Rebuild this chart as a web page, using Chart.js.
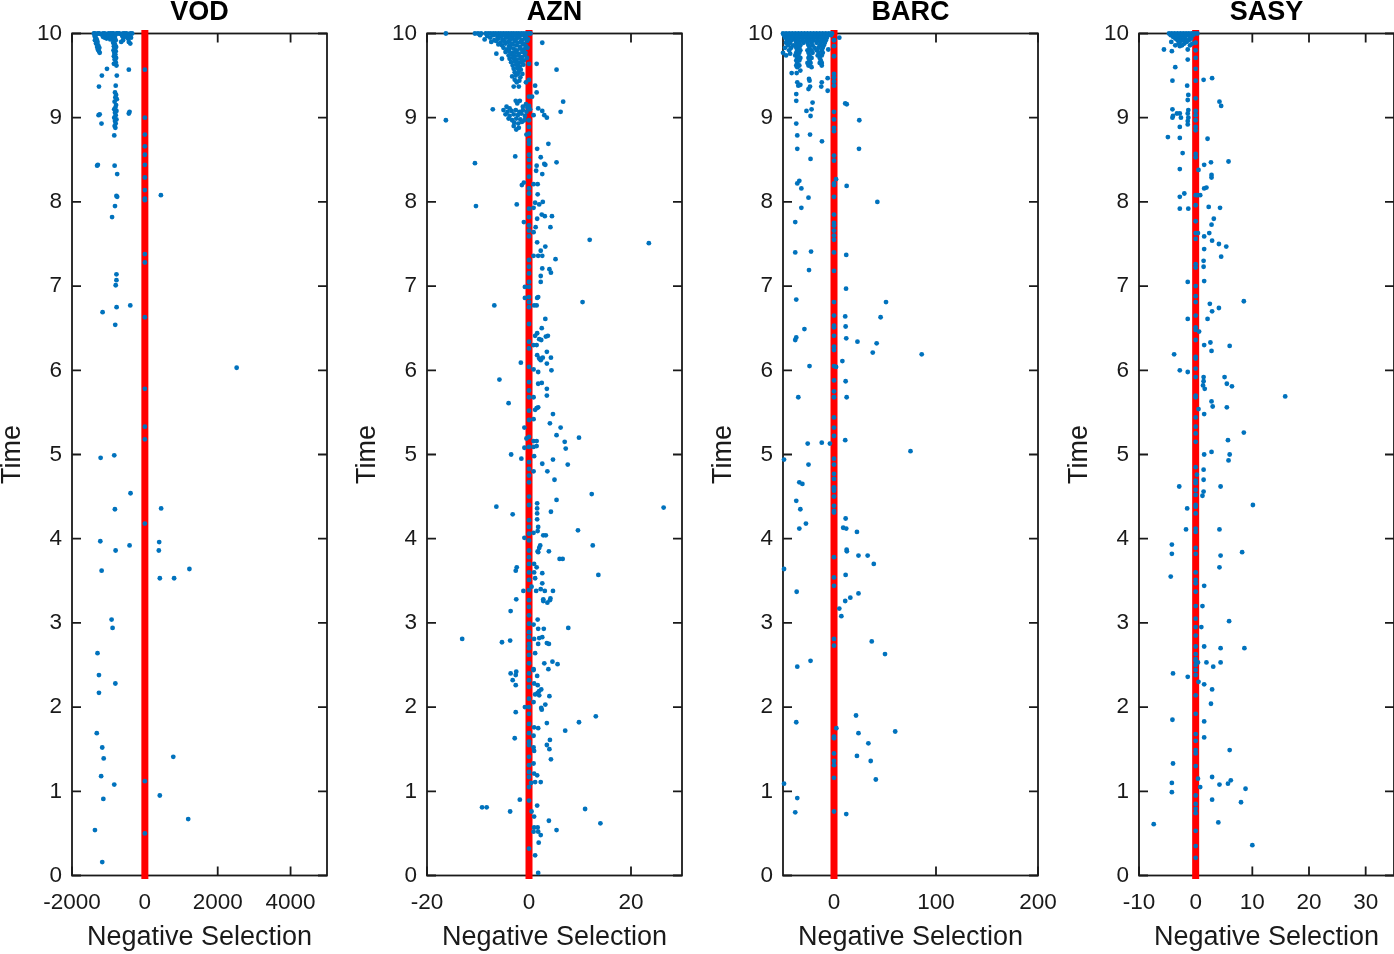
<!DOCTYPE html>
<html>
<head>
<meta charset="utf-8">
<script src="https://cdn.jsdelivr.net/npm/chart.js@4.4.0/dist/chart.umd.min.js"></script>
<style>
html, body { margin: 0; padding: 0; background: #fff; overflow: hidden; width: 1394px; height: 954px; }
.panel { position: absolute; top: 0; }
</style>
</head>
<body>
<div class="panel" style="left:0px"><canvas id="c0" width="360" height="954"></canvas></div>
<div class="panel" style="left:355px"><canvas id="c1" width="360" height="954"></canvas></div>
<div class="panel" style="left:711px"><canvas id="c2" width="360" height="954"></canvas></div>
<div class="panel" style="left:1067px"><canvas id="c3" width="360" height="954"></canvas></div>
<script>
// ---------- DATA ----------
const stocks = ['VOD', 'AZN', 'BARC', 'SASY'];
const timeTicks = [0, 1, 2, 3, 4, 5, 6, 7, 8, 9, 10];
const zeroLine = [0, 10];

const vodTicks = [-2000, 0, 2000, 4000];
const aznTicks = [-20, 0, 20];
const barcTicks = [0, 100, 200];
const sasyTicks = [-10, 0, 10, 20, 30];

// [negative selection, time]
const vodPoints = [
    [-1400,10],[-1370,10],[-1330,9.99],[-1290,10],[-1250,10],[-1200,9.99],[-1150,10],[-1100,10],[-1050,9.99],[-1000,10],[-950,10],[-900,10],
    [-860,10],[-820,9.99],[-780,10],[-740,10],[-700,10],[-650,9.99],[-600,10],[-550,10],[-500,10],[-450,9.99],[-400,10],[-350,10],
    [-1380,9.97],[-1350,9.95],[-1320,9.93],[-1370,9.92],[-1300,9.9],[-1340,9.88],[-1280,9.86],[-1310,9.84],[-1250,9.83],[-1290,9.81],[-1260,9.79],[-1240,9.77],
    [-900,9.97],[-860,9.95],[-820,9.96],[-880,9.93],[-840,9.91],[-800,9.92],[-870,9.89],[-820,9.87],[-850,9.85],[-790,9.84],[-830,9.82],[-860,9.8],
    [-800,9.79],[-840,9.77],[-810,9.75],[-850,9.73],[-790,9.71],[-830,9.69],[-800,9.66],[-850,9.64],[-780,9.62],
    [-620,9.97],[-580,9.95],[-540,9.98],[-500,9.96],[-460,9.94],[-420,9.97],[-380,9.95],[-600,9.92],[-440,9.9],[-650,9.9],[-400,9.88],
    [-1000,9.96],[-1050,9.94],[-1100,9.95],[-1150,9.96],[-950,9.93],
    [-1040,9.58],[-440,9.57],[-1180,9.50],[-770,9.50],[-1260,9.37],[-800,9.38],
    [-820,9.3],[-790,9.27],[-810,9.24],[-770,9.22],[-830,9.19],[-790,9.15],[-810,9.12],[-840,9.1],[-780,9.08],[-820,9.06],[-800,9.03],
    [-840,9.0],[-780,8.98],[-820,8.96],[-800,8.93],[-830,8.9],[-810,8.88],
    [-1270,9.03],[-1240,9.04],[-440,9.05],[-420,9.07],[-1190,8.93],[-840,8.79],[-1310,8.43],[-1290,8.44],[-830,8.43],[-760,8.33],
    [-780,8.07],[-760,8.06],[-820,7.95],[-900,7.82],[-780,7.14],[-780,7.07],[-800,7.01],[-1160,6.69],[-776,6.75],[-400,6.77],[-813,6.54],
    [440,8.08],[2520,6.03],[-1214,4.96],[-840,4.99],[-393,4.54],[-822,4.35],[447,4.36],[-1223,3.97],[-420,3.92],[-803,3.86],[393,3.96],
    [383,3.86],[-1187,3.62],[411,3.53],[803,3.53],[1223,3.64],[-913,3.04],[-886,2.94],[-1300,2.64],[-1260,2.38],[-810,2.28],[-1260,2.17],
    [-1320,1.69],[-1170,1.52],[-1130,1.39],[-1200,1.18],[-840,1.08],[-1140,0.91],[-1370,0.54],[-1170,0.16],[780,1.41],[410,0.95],[1190,0.67]
];
const vodZero = [9.57, 9.00, 8.80, 8.66, 8.56, 8.44, 8.29, 8.14, 8.04, 8.02, 7.38, 7.28, 6.63, 5.78, 5.33, 5.18, 4.18, 1.12, 0.50];

const aznPoints = [
    [-16.3,10],[-10.6,10],[-10.0,10],[-9.4,10],[-8.5,10],[-8.0,10],[-7.5,10],[-7.0,10],[-6.5,10],[-6.0,10],[-5.5,10],[-5.0,10],
    [-4.5,10],[-4.0,10],[-3.5,10],[-3.0,10],[-2.5,10],[-2.0,10],[-1.5,10],[-1.0,10],[-0.5,10],[0,10],[0.3,10],
    [-9.6,9.98],[-8.2,9.97],[-7.0,9.98],[-6.2,9.96],[-5.5,9.97],[-4.8,9.98],[-4.2,9.96],[-3.6,9.97],[-3.0,9.98],[-2.4,9.96],[-1.8,9.97],[-1.2,9.98],[-0.6,9.96],
    [-8.7,9.93],[-7.6,9.95],[-6.8,9.92],[-6.0,9.94],[-5.2,9.93],[-4.5,9.95],[-3.8,9.92],[-3.2,9.94],[-2.6,9.93],[-2.0,9.95],[-1.4,9.92],[-0.8,9.94],[-0.2,9.93],
    [-7.4,9.90],[-6.4,9.91],[-5.6,9.89],[-4.9,9.91],[-4.1,9.90],[-3.4,9.88],[-2.8,9.91],[-2.2,9.89],[-1.6,9.90],[-1.0,9.88],[-0.4,9.91],
    [-6.0,9.87],[-5.3,9.86],[-4.6,9.88],[-3.9,9.85],[-3.2,9.87],[-2.5,9.86],[-1.8,9.84],[-1.2,9.87],[-0.6,9.85],
    [-5.0,9.83],[-4.3,9.81],[-3.7,9.83],[-3.0,9.82],[-2.4,9.80],[-1.7,9.82],[-1.0,9.81],[-0.3,9.83],
    [-4.6,9.78],[-3.9,9.79],[-3.2,9.77],[-2.6,9.78],[-2.0,9.76],[-1.3,9.78],[-0.7,9.77],
    [-4.0,9.74],[-3.5,9.75],[-2.8,9.73],[-2.1,9.74],[-1.4,9.72],[-0.8,9.74],
    [-6.4,9.76],[-3.8,9.70],[-3.1,9.71],[-2.4,9.69],[-1.7,9.70],[-1.0,9.68],[-0.4,9.71],
    [-3.5,9.66],[-2.8,9.67],[-2.1,9.65],[-1.4,9.66],[-5.3,9.70],[-3.2,9.62],[-2.5,9.63],[-1.8,9.61],[-1.1,9.63],
    [-3.0,9.58],[-2.3,9.59],[-1.6,9.57],[-2.8,9.54],[-2.0,9.55],[-1.3,9.52],[-2.6,9.50],[-1.7,9.48],[-2.8,9.45],[-1.9,9.44],
    [-2.2,9.52],[-3.3,9.49],[-2.4,9.42],[-0.6,9.42],[-3.0,9.37],[-2.0,9.37],
    [-2.6,9.2],[-2.3,9.17],[-1.8,9.2],[-0.6,9.16],[-4.4,9.13],[-3.8,9.11],[-1.2,9.13],[-0.3,9.12],[-5.0,9.09],[-4.2,9.07],[-3.4,9.08],
    [-2.6,9.09],[-1.9,9.07],[-1.2,9.09],[-0.5,9.07],[0.2,9.1],[-4.6,9.04],[-3.8,9.02],[-3.0,9.04],[-2.2,9.03],[-1.5,9.05],[-0.8,9.02],
    [-4.0,8.99],[-3.3,8.97],[-2.5,8.99],[-1.7,8.98],[-0.9,8.97],[-2.9,8.94],[-2.1,8.93],[-1.4,8.95],[-3.0,8.9],[-2.0,8.88],[-2.5,8.86],[-0.5,8.8],
    [2.6,9.89],[5.4,9.57],[1.5,9.64],[6.7,9.19],[6.2,9.07],[2.6,9.08],[3.0,9.03],[3.5,9.0],[1.8,9.11],[0.9,9.03],[1.2,9.38],[1.5,9.30],[0.6,9.25],
    [-7.1,9.1],[-16.3,8.97],[-10.6,8.46],[-10.4,7.95],[-6.8,6.77],[10.5,6.81],[11.9,7.55],[23.5,7.51],
    [-2.7,8.54],[3.8,8.69],[1.6,8.63],[2.3,8.53],[3.0,8.45],[3.2,8.44],[5.4,8.47],[1.5,8.43],[1.4,8.37],[2.6,8.33],[-1.4,8.2],[-1.0,8.23],
    [0.9,8.21],[1.7,8.21],[1.7,8.09],[2.7,8.0],[2.0,7.97],[1.2,7.99],[-2.4,7.97],[0.9,7.93],[2.5,7.85],[3.1,7.83],[4.5,7.83],[1.6,7.8],
    [-1.0,7.76],[4.2,7.7],[1.3,7.7],[0.9,7.64],[1.6,7.52],[3.2,7.47],[2.3,7.42],[1.8,7.36],[2.6,7.36],[0.9,7.36],[5.2,7.32],[2.6,7.21],
    [4.0,7.2],[4.3,7.16],[2.3,7.12],[2.3,7.05],[-0.8,6.99],[1.8,6.87],[1.6,6.86],[-0.8,6.86],[1.0,6.77],[1.5,6.77],
    [3.2,6.61],[2.5,6.50],[1.6,6.44],[1.2,6.41],[3.7,6.41],[3.3,6.40],[2.0,6.37],[2.4,6.36],[0.9,6.30],[1.5,6.30],[3.5,6.22],[1.6,6.18],
    [2.0,6.14],[2.7,6.15],[2.3,6.12],[4.3,6.15],[-1.6,6.09],[3.5,6.08],[4.4,6.0],[0.9,6.01],[1.8,5.98],[-5.8,5.89],[1.8,5.84],[2.5,5.85],
    [3.5,5.78],[3.5,5.7],[0.9,5.68],[-4.0,5.61],[1.5,5.55],[1.8,5.56],[1.2,5.53],[0.9,5.42],[4.7,5.48],[4.1,5.37],[6.2,5.32],[5.4,5.23],
    [9.8,5.2],[-0.9,5.32],[7.0,5.15],[7.2,5.07],[-0.5,5.19],[0.9,5.16],[1.5,5.16],[1.5,5.1],[0.9,5.09],[-0.9,5.08],[-3.5,5.0],[-1.5,4.95],
    [1.0,4.98],[2.6,4.89],[4.7,4.94],[7.6,4.88],[0.9,4.80],[3.6,4.8],[5.0,4.70],[12.3,4.53],[5.4,4.46],[26.4,4.37],[-6.4,4.38],[-3.2,4.29],
    [1.6,4.42],[1.6,4.36],[1.6,4.30],[1.6,4.23],[4.3,4.32],[9.6,4.1],[1.8,4.14],[1.7,4.09],[0.9,4.07],[2.8,4.04],[3.3,4.04],[-0.9,4.01],
    [12.5,3.92],[2.2,3.92],[2.0,3.89],[3.9,3.85],[1.7,3.85],[1.8,3.84],[6.0,3.76],[6.6,3.76],[-2.4,3.66],[-2.6,3.62],[1.0,3.70],[1.0,3.60],
    [1.5,3.66],[2.6,3.59],[13.6,3.57],[1.2,3.53],[2.6,3.47],[-1.1,3.38],[0.5,3.43],[1.4,3.38],[3.1,3.38],[4.7,3.38],[2.3,3.40],[-2.5,3.28],
    [4.2,3.29],[2.8,3.28],
    [-3.6,3.14],[2.8,3.26],[3.6,3.24],[4.1,3.27],[1.7,3.04],[0.9,2.98],[1.8,2.93],[2.9,2.93],[7.7,2.94],[-13.1,2.81],[-5.3,2.77],[-3.7,2.79],
    [1.0,2.81],[2.0,2.82],[2.6,2.83],[1.8,2.75],[3.5,2.76],[3.9,2.75],[1.2,2.64],[3.0,2.52],[4.6,2.54],[5.6,2.51],[3.8,2.45],[-3.6,2.40],
    [-2.5,2.42],[-2.6,2.38],[-3.2,2.32],[-2.6,2.26],[0.9,2.45],[0.9,2.44],[1.6,2.37],[1.0,2.28],[1.7,2.26],[2.4,2.21],[2.0,2.19],[1.2,2.15],
    [2.0,2.14],[1.7,2.17],[4.0,2.13],[0.9,2.06],[3.2,2.03],[2.4,1.99],[2.5,1.97],[-0.8,2.0],[-2.6,1.94],[13.1,1.89],[9.8,1.82],[3.5,1.81],
    [1.0,1.76],[1.8,1.75],[7.1,1.72],[-2.8,1.63],[0.9,1.66],[4.1,1.61],[3.5,1.55],[4.0,1.5],[0.9,1.52],[1.0,1.48],[4.3,1.38],[0.9,1.33],
    [1.0,1.21],[1.6,1.19],[1.2,1.11],[2.3,1.11],[0.4,1.1],[-1.8,0.90],[-9.2,0.81],[-8.3,0.81],[-3.7,0.76],[1.6,0.83],[11.0,0.79],[0.5,0.76],
    [1.0,0.70],[3.9,0.65],[14.0,0.62],[1.0,0.57],[1.7,0.57],[0.9,0.52],[1.8,0.52],[2.3,0.48],[5.4,0.54],[1.9,0.39],[1.2,0.24],[1.8,0.03]
];
const aznZero = [9.64,9.45,9.25,9.14,8.97,8.89,8.81,8.73,8.69,8.56,8.50,8.42,8.30,8.16,8.10,7.92,7.82,7.72,7.66,7.59,7.31,7.23,7.15,7.05,
    6.99,6.87,6.81,6.75,6.55,6.34,6.26,6.04,5.86,5.76,5.68,5.52,5.41,5.21,5.09,4.91,4.83,4.75,4.67,4.50,4.40,4.22,4.14,4.06,3.98,3.86,
    3.78,3.70,3.60,3.51,3.39,3.27,3.19,3.09,2.99,2.89,2.83,2.75,2.70,2.62,2.52,2.40,2.32,2.24,2.10,2.00,1.92,1.80,1.69,1.59,1.55,1.41,
    1.31,1.23,1.17,1.05,0.89,0.32];

const barcPoints = [
    [-50,10],[-47,10],[-44,10],[-41,10],[-38,10],[-35,10],[-32,10],[-29,10],[-26,10],[-23,10],[-20,10],[-17,10],[-14,10],[-11,10],[-8,10],[-5,10],[-2,10],
    [-49,9.98],[-45,9.98],[-42,9.98],[-39,9.98],[-36,9.98],[-33,9.98],[-30,9.98],[-27,9.98],[-24,9.98],[-21,9.98],[-18,9.98],[-15,9.98],[-12,9.98],[-9,9.98],[-6,9.98],[-3,9.98],
    [-48,9.95],[-44,9.95],[-40,9.95],[-37,9.95],[-34,9.95],[-31,9.95],[-28,9.95],[-25,9.95],[-22,9.95],[-19,9.95],[-16,9.95],[-13,9.95],[-10,9.95],[-7,9.95],
    [-46,9.92],[-42,9.92],[-38,9.92],[-35,9.92],[-31,9.92],[-27,9.92],[-24,9.92],[-20,9.92],[-16,9.92],[-12,9.92],[-8,9.92],
    [-47,9.89],[-43,9.89],[-37,9.89],[-34,9.89],[-30,9.89],[-26,9.89],[-22,9.89],[-17,9.89],[-13,9.89],[-9,9.89],
    [-45,9.86],[-40,9.86],[-36,9.86],[-33,9.86],[-25,9.86],[-21,9.86],[-14,9.86],[-10,9.86],
    [-48,9.83],[-42,9.83],[-37,9.83],[-34,9.83],[-24,9.83],[-19,9.83],[-15,9.83],[-11,9.83],
    [-44,9.80],[-36,9.80],[-33,9.80],[-26,9.80],[-22,9.80],[-17,9.80],[-12,9.80],
    [-50,9.77],[-37,9.77],[-34,9.77],[-25,9.77],[-21,9.77],[-15,9.77],[-11,9.77],
    [-47,9.74],[-38,9.74],[-35,9.74],[-24,9.74],[-16,9.74],[-12,9.74],[-36,9.71],[-33,9.71],[-25,9.71],[-22,9.71],[-14,9.71],
    [-37,9.68],[-34,9.68],[-24,9.68],[-13,9.68],[-36,9.65],[-26,9.65],[-23,9.65],[-14,9.65],[-12,9.65],[-37,9.62],[-34,9.62],[-25,9.62],[-12,9.62],
    [-36,9.60],[-22,9.60],
    [5.2,9.95],[-5.6,9.81],[-43,9.76],[-41.5,9.53],[-36.6,9.53],[-33,9.56],[-36,9.42],[-35,9.38],[-33,9.39],[-24.5,9.46],[-24,9.44],[-25,9.34],
    [-23.5,9.37],[-12,9.42],[-12.5,9.37],[-6.2,9.47],[-6.2,9.32],[-37,9.28],[-37,9.2],[-21,9.18],[11,9.17],[12.5,9.16],[-22,9.1],[-27,9.08],
    [-23,9.02],[24.8,8.97],[-37,8.93],[-36,8.79],[-23.5,8.8],[-11.8,8.72],[-36,8.63],[24.5,8.63],[-23,8.51],[2,8.27],[12.4,8.19],[-34,8.25],
    [-36,8.22],[-32,8.16],[-25,8.05],[42.5,8.0],[-32,7.93],[-38,7.76],[-38,7.4],[-22.5,7.41],[12,7.37],[-24.5,7.19],[11.8,6.97],[-37,6.84],
    [51,6.81],[11,6.64],[45.7,6.63],[11.4,6.52],[-29,6.49],[-38,6.36],[-37,6.39],[12,6.38],[23,6.34],[41.8,6.32],[38,6.21],[86,6.19],
    [8.2,6.11],[-24,6.05],[2,6.04],[11.4,5.87],[-35,5.68],[12.4,5.68],[-25.8,5.13],[-12,5.14],[-4,5.13],[11,5.17],[75,5.04],[-49,4.94],
    [-25,4.88],[-34,4.67],[-31,4.65],[-37,4.45],[-33,4.35],[-27.5,4.18],[-34,4.12],[11.4,4.24],[9,4.13],[12,4.12],[22.5,4.08],[12.4,3.87],
    [12.6,3.85],[24,3.8],[33,3.8],[39,3.7],[-49,3.64],[11.4,3.57],[-36.6,3.37],[16,3.30],[24,3.35],[11,3.26],[5.2,3.17],[7.2,3.08],
    [37,2.78],[50,2.63],[-23,2.55],[-36,2.48],[21.6,1.9],[-37,1.82],[2.3,1.75],[24,1.69],[60,1.71],[33.7,1.57],[22.5,1.42],[36,1.36],
    [41,1.14],[-49,1.09],[-36,0.92],[-38,0.75],[12,0.73]
];
const barcZero = [9.92,9.85,9.73,9.52,9.48,9.43,9.38,9.07,8.98,8.88,8.84,8.55,8.49,8.22,8.20,8.06,7.85,7.75,7.72,7.66,7.60,7.55,7.40,7.18,
    6.81,6.65,6.53,6.51,6.41,6.28,6.24,6.05,5.88,5.75,5.68,5.44,5.32,5.22,4.95,4.88,4.77,4.71,4.61,4.59,4.57,4.50,4.39,4.33,4.31,3.78,
    3.54,3.44,2.81,2.73,1.65,1.63,1.45,1.36,1.31,1.16,0.76];

const sasyPoints = [
    [-4.7,10],[-4.2,10],[-3.7,10],[-3.2,10],[-2.7,10],[-2.2,10],[-1.7,10],[-1.2,10],[-0.7,10],[-0.2,10],[0.3,10],
    [-4.4,9.98],[-3.5,9.98],[-2.5,9.98],[-1.5,9.98],[-0.5,9.98],[-4.0,9.96],[-3.0,9.96],[-2.0,9.96],[-1.0,9.96],
    [-3.6,9.94],[-2.6,9.94],[-1.8,9.94],[-0.8,9.94],[-3.2,9.92],[-2.2,9.92],[-1.2,9.92],[-4.3,9.9],[-2.8,9.9],[-1.6,9.9],
    [-3.0,9.88],[-2.0,9.88],[-0.6,9.88],[-3.6,9.86],[-2.4,9.86],[-1.0,9.86],[-5.6,9.81],[-4.2,9.79],[-2.8,9.85],[-1.4,9.81],
    [-1.4,9.69],[-3.6,9.6],[-4.1,9.44],[1.4,9.45],[2.9,9.47],[-1.5,9.38],[-1.3,9.27],[-1.4,9.21],[4.2,9.19],[4.5,9.14],[-4.1,9.1],[-4.1,9.0],
    [-4.0,9.02],[-2.8,9.05],[-2.6,9.0],[-3.3,9.05],[-1.3,9.09],[-1.4,9.05],[-1.3,9.0],[-1.4,8.92],[-1.4,8.96],[-2.8,8.89],[-4.9,8.77],[-2.8,8.76],
    [2.1,8.75],[-2.3,8.58],[1.5,8.44],[2.7,8.47],[5.8,8.48],[-2.8,8.39],[0.5,8.38],[2.8,8.32],[2.8,8.29],[1.5,8.16],[1.9,8.17],[-2.8,8.06],
    [-2.0,8.1],[0.3,8.08],[0.8,8.08],[-2.8,7.92],[-1.3,7.92],[2.3,7.94],[4.3,7.93],[3.2,7.8],[2.8,7.73],[2.4,7.63],[0.4,7.63],[1.5,7.59],
    [2.9,7.54],[4.1,7.5],[5.4,7.47],[4.5,7.35],[1.5,7.44],[1.4,7.3],[1.4,7.23],[-1.4,7.05],[1.5,7.06],[8.5,6.82],[2.5,6.79],[2.9,6.7],[4.1,6.74],
    [-1.4,6.61],[2.1,6.61],[0.6,6.46],[2.6,6.33],[1.5,6.3],[6.0,6.29],[2.8,6.23],[-3.8,6.19],[-2.8,6.0],[-1.4,5.98],[1.4,5.92],[1.4,5.87],
    [1.3,5.82],[1.6,5.78],[5.1,5.92],[5.5,5.84],[6.4,5.81],[15.8,5.69],[2.8,5.63],[3.0,5.57],[5.5,5.56],[0.5,5.54],[1.5,5.48],[8.5,5.26],
    [5.7,5.17],[1.5,5.0],[2.8,5.03],[6.0,5.0],[5.8,4.93],[1.4,4.82],[0.2,4.76],[1.4,4.70],[-2.9,4.62],[4.4,4.62],[1.4,4.56],[1.2,4.51],
    [10.1,4.4],[-1.5,4.36],[-1.7,4.11],[4.2,4.11],[-4.2,3.93],[-4.2,3.82],[4.4,3.8],[8.2,3.84],[4.2,3.66],[-4.4,3.55],[1.5,3.44],
    [5.9,3.02],[1.2,3.2],[1.0,2.95],
    [1.5,2.72],[4.4,2.70],[8.6,2.70],[1.9,2.53],[3.1,2.48],[4.4,2.53],[-4.0,2.4],[-1.4,2.36],[0.4,2.53],[0.5,2.3],[1.5,2.27],[2.9,2.21],
    [2.7,2.04],[-4.1,1.85],[1.5,1.83],[1.5,1.64],[6.0,1.49],[-4.0,1.33],[2.9,1.17],[0.4,1.15],[-4.2,1.1],[0.8,1.05],[4.2,1.08],[5.7,1.09],
    [6.2,1.13],[8.8,1.03],[-4.2,0.99],[2.9,0.9],[8.0,0.87],[4.0,0.63],[-7.4,0.61],[10,0.36]
];
const sasyZero = [9.89,9.80,9.71,9.58,9.44,9.23,9.08,9.03,8.97,8.89,8.85,8.57,8.53,8.08,7.96,7.77,7.63,7.56,7.26,7.22,7.0,6.88,6.81,6.65,
    6.51,6.48,6.36,6.16,6.14,6.02,5.92,5.70,5.68,5.44,5.33,5.25,5.15,4.85,4.69,4.66,4.58,4.52,4.40,4.38,4.30,4.12,4.08,3.89,3.82,3.60,
    3.51,3.47,3.37,3.2,3.05,2.95,2.85,2.72,2.63,2.57,2.55,2.50,2.44,2.38,2.14,1.92,1.68,1.60,1.49,1.45,1.30,0.95,0.85,0.79,0.74,0.53,
    0.35,0.21];

// ---------- STYLE ----------
const FONT = "'Liberation Sans', Arial, Helvetica, sans-serif";
const INK = '#1a1a1a';

// box + inward ticks on all four sides (like matlab axes)
const axisBox = {
    id: 'axisBox',
    beforeDatasetsDraw(chart) {
        const ctx = chart.ctx, a = chart.chartArea;
        const xs = chart.scales.x, ys = chart.scales.y;
        const len = 9;
        ctx.save();
        ctx.strokeStyle = INK;
        ctx.lineWidth = 1.8;
        ctx.beginPath();
        xs.ticks.forEach(function (t) {
            const px = xs.getPixelForValue(t.value);
            ctx.moveTo(px, a.bottom); ctx.lineTo(px, a.bottom - len);
            ctx.moveTo(px, a.top); ctx.lineTo(px, a.top + len);
        });
        ys.ticks.forEach(function (t) {
            const py = ys.getPixelForValue(t.value);
            ctx.moveTo(a.left, py); ctx.lineTo(a.left + len, py);
            ctx.moveTo(a.right, py); ctx.lineTo(a.right - len, py);
        });
        ctx.stroke();
        ctx.strokeRect(a.left, a.top, a.right - a.left, a.bottom - a.top);
        ctx.restore();
    }
};

function makePanel(canvasId, name, points, zeroTimes, xMin, xMax, xTicks) {
    const scatterData = points.map(p => ({ x: p[0], y: p[1] }))
        .concat(zeroTimes.map(t => ({ x: 0, y: t })));
    return new Chart(document.getElementById(canvasId), {
        type: 'scatter',
        data: {
            datasets: [{
                data: scatterData,
                backgroundColor: '#0072BD',
                borderWidth: 0,
                pointRadius: 2.4,
                pointHoverRadius: 2.4,
                clip: false,
                order: 1
            }, {
                type: 'line',
                data: zeroLine.map(t => ({ x: 0, y: t })),
                borderColor: '#ff0000',
                borderWidth: 7,
                borderCapStyle: 'square',
                pointRadius: 0,
                clip: false,
                order: 2
            }]
        },
        options: {
            responsive: false,
            animation: false,
            events: [],
            layout: { autoPadding: false, padding: { left: 0, right: 33, top: 0, bottom: 0 } },
            plugins: {
                legend: { display: false },
                tooltip: { enabled: false },
                title: {
                    display: true,
                    text: name,
                    fullSize: false,
                    color: '#000',
                    font: { family: FONT, size: 27, weight: 'bold', lineHeight: 0.9 },
                    padding: { top: 0, bottom: 9.2 }
                }
            },
            scales: {
                x: {
                    type: 'linear',
                    min: xMin,
                    max: xMax,
                    afterBuildTicks: s => { s.ticks = xTicks.map(v => ({ value: v })); },
                    afterFit: s => { s.height = 78.5; },
                    grid: { display: false, drawTicks: false },
                    border: { display: false },
                    ticks: {
                        padding: 14,
                        color: INK,
                        maxRotation: 0,
                        autoSkip: false,
                        font: { family: FONT, size: 22.5 },
                        callback: v => String(v)
                    },
                    title: {
                        display: true,
                        text: 'Negative Selection',
                        color: INK,
                        font: { family: FONT, size: 27 },
                        padding: { top: 0, bottom: 0 }
                    }
                },
                y: {
                    type: 'linear',
                    min: 0,
                    max: 10,
                    afterBuildTicks: s => { s.ticks = timeTicks.map(v => ({ value: v })); },
                    afterFit: s => { s.width = 72; },
                    grid: { display: false, drawTicks: false },
                    border: { display: false },
                    ticks: {
                        padding: 10,
                        color: INK,
                        autoSkip: false,
                        font: { family: FONT, size: 22.5 },
                        callback: v => String(v)
                    },
                    title: {
                        display: true,
                        text: 'Time',
                        color: INK,
                        font: { family: FONT, size: 27, lineHeight: 0.9 },
                        padding: { top: 0, bottom: 0 }
                    }
                }
            }
        },
        plugins: [axisBox]
    });
}

makePanel('c0', stocks[0], vodPoints, vodZero, -2000, 5000, vodTicks);
makePanel('c1', stocks[1], aznPoints, aznZero, -20, 30, aznTicks);
makePanel('c2', stocks[2], barcPoints, barcZero, -50, 200, barcTicks);
makePanel('c3', stocks[3], sasyPoints, sasyZero, -10, 35, sasyTicks);
</script>
</body>
</html>
